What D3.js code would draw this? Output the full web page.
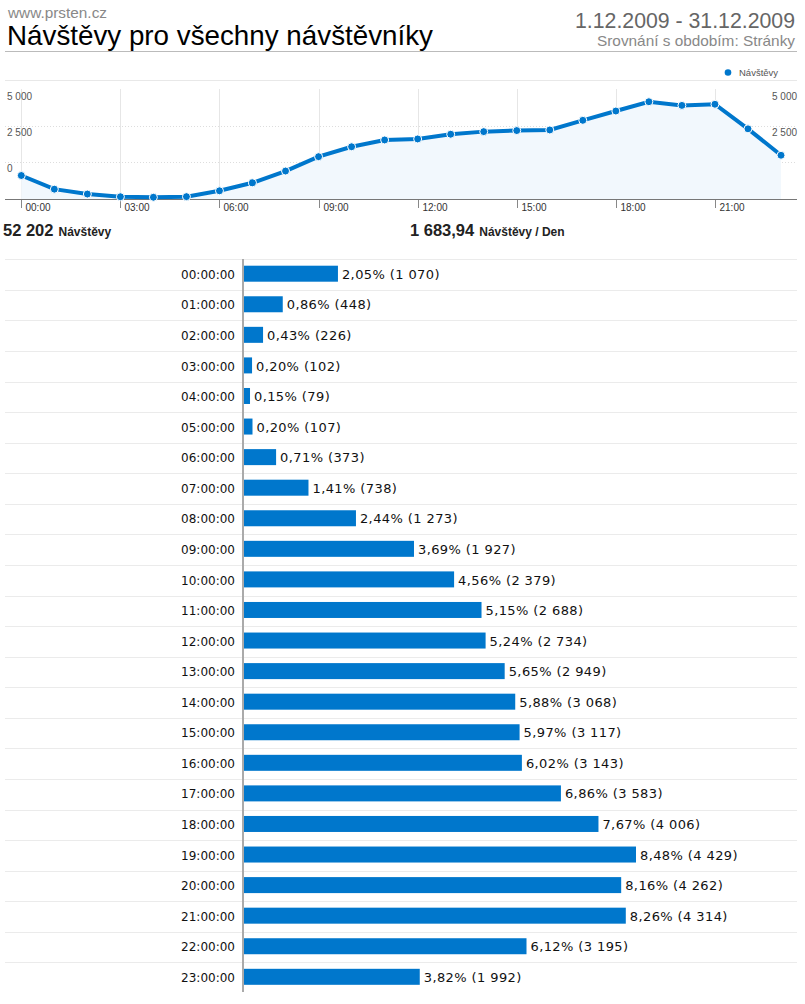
<!DOCTYPE html>
<html><head><meta charset="utf-8">
<script src="https://cdn.jsdelivr.net/npm/d3@7"></script>
<style>body{margin:0;background:#fff}svg{display:block}</style>
</head><body>
<script>
const hours = ["00:00:00","01:00:00","02:00:00","03:00:00","04:00:00","05:00:00","06:00:00","07:00:00","08:00:00","09:00:00","10:00:00","11:00:00","12:00:00","13:00:00","14:00:00","15:00:00","16:00:00","17:00:00","18:00:00","19:00:00","20:00:00","21:00:00","22:00:00","23:00:00"];
const visits = [1070,448,226,102,79,107,373,738,1273,1927,2379,2688,2734,2949,3068,3117,3143,3583,4006,4429,4262,4314,3195,1992];
const percents = ["2,05","0,86","0,43","0,20","0,15","0,20","0,71","1,41","2,44","3,69","4,56","5,15","5,24","5,65","5,88","5,97","6,02","6,86","7,67","8,48","8,16","8,26","6,12","3,82"];
const xTickLabels = ["00:00","03:00","06:00","09:00","12:00","15:00","18:00","21:00"];
const yTickLabels = [0, 2500, 5000];

const W = 805, H = 1004;
const svg = d3.select("body").append("svg").attr("width", W).attr("height", H);
const fmt = v => d3.format(",")(v).replace(/,/g, " ");
const SANS = "Liberation Sans, Arial";

// Header
svg.append("text").attr("x",8).attr("y",18).attr("font-family",SANS).attr("font-size",15).attr("fill","#888")
  .attr("textLength",99).attr("lengthAdjust","spacingAndGlyphs").text("www.prsten.cz");
svg.append("text").attr("x",7).attr("y",45).attr("font-family",SANS).attr("font-size",28).attr("fill","#000")
  .attr("textLength",426).attr("lengthAdjust","spacingAndGlyphs").text("Návštěvy pro všechny návštěvníky");
svg.append("text").attr("x",795).attr("y",28).attr("text-anchor","end").attr("font-family",SANS).attr("font-size",22).attr("fill","#666")
  .attr("textLength",220).attr("lengthAdjust","spacingAndGlyphs").text("1.12.2009 - 31.12.2009");
svg.append("text").attr("x",795).attr("y",46).attr("text-anchor","end").attr("font-family",SANS).attr("font-size",15).attr("fill","#888")
  .attr("textLength",198).attr("lengthAdjust","spacingAndGlyphs").text("Srovnání s obdobím: Stránky");
svg.append("line").attr("x1",5).attr("x2",797).attr("y1",51.5).attr("y2",51.5).attr("stroke","#bbb");

// Line chart
const x = d3.scalePoint().domain(d3.range(24)).range([21.3, 781]);
const y = d3.scaleLinear().domain([0, 5000]).range([199, 89.2]);
const yLab = d3.scaleLinear().domain([0, 5000]).range([162, 90]);

svg.append("line").attr("x1",5).attr("x2",797).attr("y1",80.5).attr("y2",80.5).attr("stroke","#e8e8e8");
[0,3,6,9,12,15,18,21].forEach(i=>{
  svg.append("line").attr("x1",Math.round(x(i))+0.5).attr("x2",Math.round(x(i))+0.5).attr("y1",89).attr("y2",199).attr("stroke","#e6e6e6");
});
[0,2500].forEach(v=>{
  svg.append("line").attr("x1",5).attr("x2",797).attr("y1",Math.round(yLab(v))+0.5).attr("y2",Math.round(yLab(v))+0.5).attr("stroke","#ddd").attr("stroke-dasharray","1,2");
});
yTickLabels.forEach(v=>{
  svg.append("text").attr("x",7).attr("y",yLab(v)+10).attr("font-family",SANS).attr("font-size",10).attr("fill","#555").text(fmt(v));
  svg.append("text").attr("x",772).attr("y",yLab(v)+10).attr("font-family",SANS).attr("font-size",10).attr("fill","#555").text(fmt(v));
});
const area = d3.area().x((d,i)=>x(i)).y0(199).y1(d=>y(d));
svg.append("path").datum(visits).attr("d",area).attr("fill","#f2f8fd");
svg.append("line").attr("x1",5).attr("x2",797).attr("y1",199.5).attr("y2",199.5).attr("stroke","#777");
xTickLabels.forEach((l,k)=>{
  const xi = Math.round(x(k*3))+0.5;
  svg.append("line").attr("x1",xi).attr("x2",xi).attr("y1",200).attr("y2",208).attr("stroke","#888");
  svg.append("text").attr("x",xi+4).attr("y",211).attr("font-family",SANS).attr("font-size",10).attr("fill","#333").text(l);
});
const line = d3.line().x((d,i)=>x(i)).y(d=>y(d));
svg.append("path").datum(visits).attr("d",line).attr("fill","none").attr("stroke","#0077cc").attr("stroke-width",4);
svg.selectAll(".pt").data(visits).enter().append("circle").attr("cx",(d,i)=>x(i)).attr("cy",d=>y(d)).attr("r",4).attr("fill","#0077cc").attr("stroke","#fff").attr("stroke-width",1);
svg.append("circle").attr("cx",728).attr("cy",72.5).attr("r",3.3).attr("fill","#0077cc");
svg.append("text").attr("x",739).attr("y",76).attr("font-family",SANS).attr("font-size",9.5).attr("fill","#555").text("Návštěvy");

// summary
const s1 = svg.append("text").attr("x",3).attr("y",236).attr("font-family",SANS).attr("fill","#222");
s1.append("tspan").attr("font-size",16.5).attr("font-weight","bold").text(fmt(d3.sum(visits)));
s1.append("tspan").attr("font-size",12).attr("dx",5).attr("font-weight","bold").text("Návštěvy");
const s2 = svg.append("text").attr("x",410).attr("y",236).attr("font-family",SANS).attr("fill","#222");
s2.append("tspan").attr("font-size",16.5).attr("font-weight","bold").text("1 683,94");
s2.append("tspan").attr("font-size",12).attr("dx",5).attr("font-weight","bold").text("Návštěvy / Den");

// Bar chart
const by = d3.scaleBand().domain(hours).range([259.3, 259.3 + 24*30.57]);
const bx = d3.scaleLinear().domain([0, 4429]).range([243, 636]);
hours.forEach(h=>{
  svg.append("line").attr("x1",5).attr("x2",797).attr("y1",Math.round(by(h))+0.5).attr("y2",Math.round(by(h))+0.5).attr("stroke","#ebebeb");
});
svg.selectAll(".bar").data(visits).enter().append("rect")
  .attr("x",bx(0)).attr("y",(d,i)=>by(hours[i])+6.4).attr("width",d=>bx(d)-bx(0)).attr("height",16).attr("fill","#0077cc");
svg.selectAll(".hl").data(hours).enter().append("text")
  .attr("x",235).attr("y",h=>by(h)+19.5).attr("text-anchor","end").attr("font-family","DejaVu Sans, Verdana").attr("font-size",12).attr("fill","#111").text(h=>h);
svg.selectAll(".vl").data(visits).enter().append("text")
  .attr("x",d=>bx(d)+4).attr("y",(d,i)=>by(hours[i])+19.5).attr("font-family","DejaVu Sans, Verdana").attr("font-size",13).attr("letter-spacing",0.4).attr("fill","#111").text((d,i)=>percents[i]+"% ("+fmt(d)+")");
svg.append("line").attr("x1",243).attr("x2",243).attr("y1",259).attr("y2",992).attr("stroke","#aaa").attr("stroke-width",2);
</script>
</body></html>
